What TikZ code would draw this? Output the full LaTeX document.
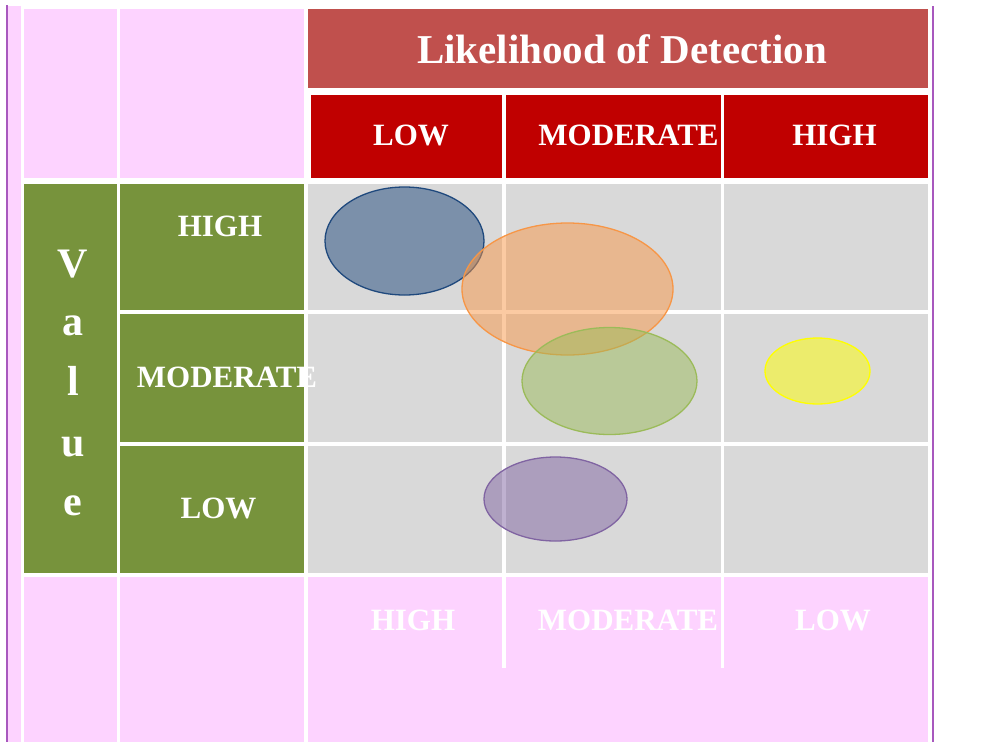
\documentclass[tikz,border=0pt]{standalone}
\usepackage{fontspec}
\setmainfont{Liberation Serif}
\definecolor{pinkbg}{RGB}{253,211,255}
\definecolor{titlered}{HTML}{C0504D}
\definecolor{subred}{HTML}{C00000}
\definecolor{olivegreen}{HTML}{77933C}
\definecolor{cellgrey}{HTML}{D9D9D9}
\definecolor{edgepurple}{RGB}{168,88,190}
\definecolor{blobblue}{HTML}{1F497D}
\definecolor{bloborange}{HTML}{F79646}
\definecolor{blobgreen}{HTML}{9BBB59}
\definecolor{blobyellow}{HTML}{FFFF00}
\definecolor{blobpurple}{HTML}{8064A2}
\begin{document}
\begin{tikzpicture}[x=1pt,y=-1pt,
  lbl/.style={text=white, font=\bfseries\fontsize{31}{31}\selectfont, anchor=base, inner sep=0pt},
  biglbl/.style={text=white, font=\bfseries\fontsize{42}{42}\selectfont, anchor=base, inner sep=0pt},
  titlelbl/.style={text=white, font=\bfseries\fontsize{41}{41}\selectfont, anchor=base, inner sep=0pt},
  blob/.style={line width=1.3pt, fill opacity=0.5}]
\useasboundingbox (0,0) rectangle (1004,742);
% outer frame lines
\draw[edgepurple, line width=1.6pt] (7,5) -- (7,742);
\draw[edgepurple, line width=1.6pt] (932.8,6) -- (932.8,742);
\fill[pinkbg] (8,6) rectangle (21,742);
% top-left pink cells
\fill[pinkbg] (24,9) rectangle (117,178);
\fill[pinkbg] (120,9) rectangle (304,178);
% title
\fill[titlered] (308,9) rectangle (928,88);
% sub headers
\fill[subred] (310.5,95) rectangle (502,178);
\fill[subred] (506,95) rectangle (721,178);
\fill[subred] (724,95) rectangle (928,178);
% value column
\fill[olivegreen] (24,184) rectangle (117,573);
\fill[olivegreen] (120,184) rectangle (304,310);
\fill[olivegreen] (120,313.5) rectangle (304,442);
\fill[olivegreen] (120,445.5) rectangle (304,573);
% grey grid
\foreach \xa/\xb in {308/502,506/721,724/928}{
  \foreach \ya/\yb in {184/310,313.5/442,445.5/573}{
    \fill[cellgrey] (\xa,\ya) rectangle (\xb,\yb);
  }
}
% bottom pink cells
\fill[pinkbg] (24,576.5) rectangle (117,742);
\fill[pinkbg] (120,576.5) rectangle (304,742);
\fill[pinkbg] (308,576.5) rectangle (928,742);
\draw[white, line width=3.5pt] (504,576) -- (504,668);
\draw[white, line width=3.5pt] (722.5,576) -- (722.5,668);
% ellipses
\draw[blob, draw=blobblue, fill=blobblue] (404.5,241) ellipse [x radius=79.5, y radius=54];
\draw[blob, draw=bloborange, fill=bloborange] (567.5,289) ellipse [x radius=105.5, y radius=66];
\draw[blob, draw=blobgreen, fill=blobgreen] (609.5,381) ellipse [x radius=87.5, y radius=53.5];
\draw[blob, draw=blobyellow, fill=blobyellow] (817.5,371) ellipse [x radius=52.5, y radius=33];
\draw[blob, draw=blobpurple, fill=blobpurple] (555.5,499) ellipse [x radius=71.5, y radius=42];
% texts
\node[titlelbl] (title) at (622,63) {Likelihood of Detection};
\node[lbl] (hlow) at (411,145) {LOW};
\node[lbl] (hmod) at (628.5,145) {MODERATE};
\node[lbl] (hhigh) at (834.5,145) {HIGH};
\node[lbl] (vhigh) at (220,236) {HIGH};
\node[lbl] (vmod) at (227,387) {MODERATE};
\node[lbl] (vlow) at (218.5,518) {LOW};
\node[lbl] (bhigh) at (413,630) {HIGH};
\node[lbl] (bmod) at (628,630) {MODERATE};
\node[lbl] (blow) at (833,630) {LOW};
\node[biglbl] (v1) at (73,277) {V};
\node[biglbl] (v2) at (73,335) {a};
\node[biglbl] (v3) at (73,395) {l};
\node[biglbl] (v4) at (73,456) {u};
\node[biglbl] (v5) at (73,515) {e};
\end{tikzpicture}
\end{document}
